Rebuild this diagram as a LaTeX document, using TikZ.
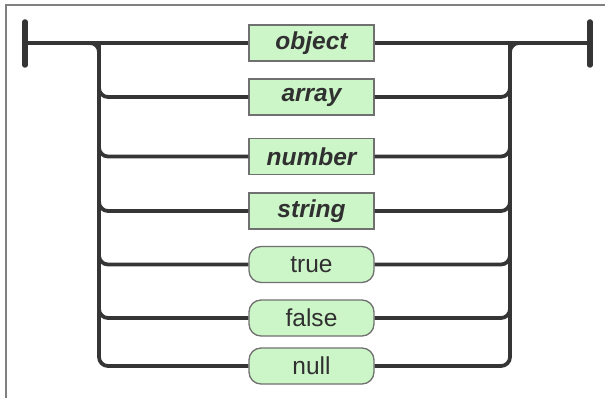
\documentclass[tikz,border=0pt]{standalone}
\usepackage{fontspec}
\setmainfont{Liberation Sans}
\definecolor{boxfill}{HTML}{CCF5C8}
\definecolor{boxline}{HTML}{707070}
\definecolor{wire}{HTML}{353535}
\definecolor{txt}{HTML}{303030}
\definecolor{frame}{HTML}{808080}
\begin{document}
\begin{tikzpicture}[x=1pt,y=-1pt,
  termbox/.style={draw=boxline,fill=boxfill,line width=1.3pt,minimum width=125pt,minimum height=36pt,inner sep=0pt,text=txt,font=\fontsize{24.5}{27}\selectfont\bfseries\itshape},
  litbox/.style={termbox,rounded corners=12pt,font=\fontsize{24.5}{27}\selectfont},
  wireline/.style={draw=wire,line width=3.8pt},
  bendline/.style={wireline,rounded corners=9pt},
  endbar/.style={draw=wire,line width=5.5pt,line cap=round}]
\useasboundingbox (0,0) rectangle (605,398);
% frame
\draw[frame,line width=1.5pt] (6,398) -- (6,5) -- (605,5);
% junction coordinates
\coordinate (lbar) at (25,43);
\coordinate (rbar) at (590,43);
\coordinate (L) at (99,43);
\coordinate (Lin) at (80,43);
\coordinate (R) at (510,43);
\coordinate (Rout) at (530,43);
% boxes
\node[termbox] (object) at (311.5,43) {object};
\node[termbox] (array)  at (311.5,97) {array};
\node[termbox] (number) at (311.5,156.5) {number};
\node[termbox] (string) at (311.5,211) {string};
\node[litbox] (true)  at (311.5,264.5) {true};
\node[litbox] (false) at (311.5,318) {false};
\node[litbox] (null)  at (311.5,366) {null};
% end bars
\draw[endbar] (25,22) -- (25,65);
\draw[endbar] (590,22) -- (590,65);
% main line
\draw[wireline] (lbar) -- (object.west);
\draw[wireline] (object.east) -- (rbar);
% left trunk
\draw[bendline] (Lin) -| (L |- null.west) -- (null.west);
\foreach \n in {array,number,string,true,false}{
  \draw[bendline] (L) |- (\n.west);
}
% right trunk
\draw[bendline] (null.east) -| (R) -- (Rout);
\foreach \n in {array,number,string,true,false}{
  \draw[bendline] (\n.east) -| (R);
}
\end{tikzpicture}
\end{document}
